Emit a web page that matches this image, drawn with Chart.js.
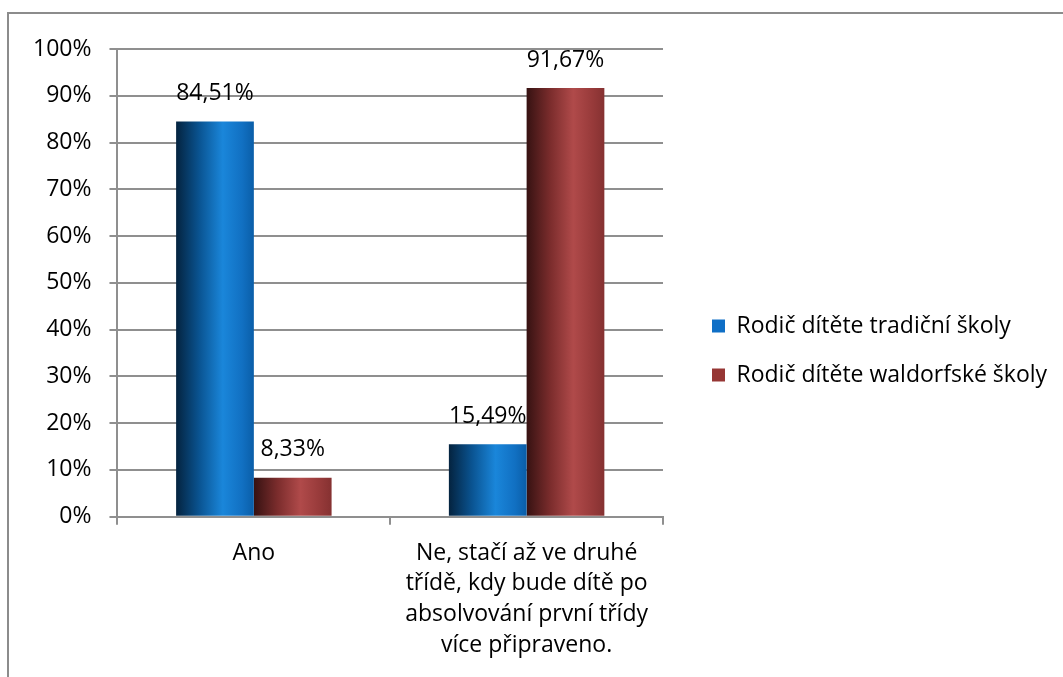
<!DOCTYPE html>
<html>
<head>
<meta charset="utf-8">
<script src="https://cdn.jsdelivr.net/npm/chart.js@4"></script>
<style>
  html, body { margin: 0; padding: 0; background: #fff; }
  #wrap { position: relative; width: 1063px; height: 677px; }
  #frame {
    position: absolute; left: 7px; top: 12px; right: 0; bottom: -4px;
    border-left: 2px solid #8c8c8c; border-top: 2px solid #8c8c8c;
  }
  canvas { position: absolute; left: 0; top: 0; }
</style>
</head>
<body>
<div id="wrap">
  <div id="frame"></div>
  <canvas id="chart" width="1063" height="677"></canvas>
</div>
<script>
const categories = [
  "Ano",
  ["Ne, stačí až ve druhé", "třídě, kdy bude dítě po", "absolvování první třídy", "více připraveno."]
];
const seriesNames = ["Rodič dítěte tradiční školy", "Rodič dítěte waldorfské školy"];
const traditional = [84.51, 15.49];
const waldorf = [8.33, 91.67];
const yTicks = [0, 10, 20, 30, 40, 50, 60, 70, 80, 90, 100];

const FONT = "'Open Sans', sans-serif";

// horizontal shading that makes each bar look like a cylinder
const shades = [
  [[0, '#04233f'], [0.3, '#0a5492'], [0.6, '#1a86da'], [0.85, '#1170c2'], [1, '#0a5ea8']],
  [[0, '#361212'], [0.3, '#7a2c2c'], [0.6, '#b04a4a'], [0.85, '#973a3a'], [1, '#853131']]
];

const cylinder = {
  id: 'cylinder',
  beforeDatasetsDraw(chart) {
    const ctx = chart.ctx;
    chart.data.datasets.forEach((ds, i) => {
      chart.getDatasetMeta(i).data.forEach(bar => {
        const left = bar.x - bar.width / 2;
        const g = ctx.createLinearGradient(left, 0, left + bar.width, 0);
        shades[i].forEach(s => g.addColorStop(s[0], s[1]));
        bar.options = Object.assign({}, bar.options, { backgroundColor: g });
      });
    });
  }
};

const valueLabels = {
  id: 'valueLabels',
  afterDatasetsDraw(chart) {
    const ctx = chart.ctx;
    ctx.save();
    ctx.font = '23px ' + FONT;
    ctx.fillStyle = '#000';
    ctx.textAlign = 'center';
    ctx.textBaseline = 'middle';
    chart.data.datasets.forEach((ds, i) => {
      chart.getDatasetMeta(i).data.forEach((bar, j) => {
        const txt = ds.data[j].toFixed(2).replace('.', ',') + '%';
        ctx.fillText(txt, bar.x, bar.y - 28);
      });
    });
    ctx.restore();
  }
};

// pull the legend away from the plot, a bit higher, and let it run to the edge
const legendGap = 49;
const legendRaise = 11;
const legendShift = {
  id: 'legendShift',
  afterLayout(chart) {
    const lg = chart.legend;
    const dx = chart.chartArea.right + legendGap - (lg.left + lg.options.labels.padding);
    lg.left += dx;
    lg.right = chart.width;
    lg.top -= legendRaise;
    lg.bottom -= legendRaise;
  }
};

const gridColor = '#8f8f8f';

new Chart(document.getElementById('chart'), {
  type: 'bar',
  data: {
    labels: categories,
    datasets: [
      { label: seriesNames[0], data: traditional, backgroundColor: '#0f6fc6' },
      { label: seriesNames[1], data: waldorf, backgroundColor: '#963634' }
    ]
  },
  options: {
    responsive: false,
    animation: false,
    events: [],
    layout: { padding: { left: 15, top: 49, right: 184, bottom: 3 } },
    datasets: {
      bar: { categoryPercentage: 0.57, barPercentage: 1, borderWidth: 0 }
    },
    scales: {
      x: {
        grid: { drawOnChartArea: false, color: gridColor, lineWidth: 2, tickLength: 8 },
        border: { color: gridColor, width: 2 },
        ticks: {
          color: '#000', font: { family: FONT, size: 23, lineHeight: 1.34 },
          padding: 13, maxRotation: 0
        }
      },
      y: {
        min: 0, max: 100,
        afterBuildTicks(scale) { scale.ticks = yTicks.map(v => ({ value: v })); },
        grid: { color: gridColor, lineWidth: 2, tickLength: 8 },
        border: { color: gridColor, width: 2 },
        ticks: {
          color: '#000', font: { family: FONT, size: 23 }, padding: 18,
          callback: v => v + '%'
        }
      }
    },
    plugins: {
      legend: {
        position: 'right',
        labels: {
          color: '#000', font: { family: FONT, size: 23 },
          boxWidth: 13, boxHeight: 13, padding: 26
        }
      },
      tooltip: { enabled: false }
    }
  },
  plugins: [cylinder, valueLabels, legendShift]
});
</script>
</body>
</html>
